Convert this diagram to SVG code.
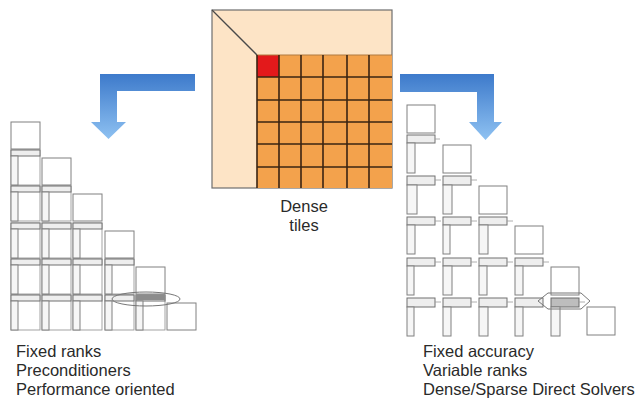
<svg xmlns="http://www.w3.org/2000/svg" xmlns:xlink="http://www.w3.org/1999/xlink" width="638" height="399" viewBox="0 0 638 399">
<style>
.diag{fill:#ffffff;stroke:#808080;stroke-width:1}
.blk{fill:none;stroke:#9a9a9a;stroke-width:0.9}
.hs{fill:#eeeeee;stroke:#707070;stroke-width:1}
.vs{fill:#f6f6f6;stroke:#808080;stroke-width:1}
.tab{fill:none;stroke:#999;stroke-width:0.8}
.ring{fill:none;stroke:#777;stroke-width:1}
.grid{stroke:#3a2412;stroke-width:1.6}
.lbl{font-family:"Liberation Sans",Arial,sans-serif;font-size:16.5px;fill:#2a2a2a}
.arrow{stroke:none}
</style>
<defs>
<linearGradient id="gl" x1="0" y1="74" x2="0" y2="140" gradientUnits="userSpaceOnUse">
<stop offset="0" stop-color="#3d7acb"/>
<stop offset="1" stop-color="#8fc2f2"/>
</linearGradient>
<g id="lb">
<rect class="blk" x="0" y="0" width="29" height="35"/>
<rect class="hs" x="0" y="0" width="29" height="6"/>
<rect class="vs" x="0" y="6" width="7" height="29"/>
</g>
</defs>
<rect width="638" height="399" fill="#ffffff"/>

<g id="dense-matrix">
<rect x="212" y="10" width="180" height="178" fill="#fde4c6" stroke="#6e6e6e" stroke-width="1.2"/>
<line x1="212" y1="10" x2="257" y2="55" stroke="#4a4a4a" stroke-width="1.3"/>
<rect x="257" y="55" width="135" height="133" fill="#f3a24c"/>
<rect x="257" y="55" width="22" height="22" fill="#e3191b"/>
<line x1="257" y1="55" x2="392" y2="55" stroke="#b07a40" stroke-width="1"/>
<g class="grid">
<line x1="257" y1="55" x2="257" y2="188"/>
<line x1="279" y1="55" x2="279" y2="188"/>
<line x1="301" y1="55" x2="301" y2="188"/>
<line x1="323" y1="55" x2="323" y2="188"/>
<line x1="347" y1="55" x2="347" y2="188"/>
<line x1="369" y1="55" x2="369" y2="188"/>
<line x1="257" y1="77" x2="392" y2="77"/>
<line x1="257" y1="100" x2="392" y2="100"/>
<line x1="257" y1="122" x2="392" y2="122"/>
<line x1="257" y1="144" x2="392" y2="144"/>
<line x1="257" y1="167" x2="392" y2="167"/>
</g>
</g>

<g id="label-dense">
<text class="lbl" x="304" y="212" text-anchor="middle">Dense</text>
<text class="lbl" x="304" y="231" text-anchor="middle">tiles</text>
</g>

<g id="connectors">
<path class="arrow" fill="url(#gl)" d="M195,74 L100,74 L100,122 L91,122 L108.5,139 L126,122 L117,122 L117,91 L195,91 Z"/>
<path class="arrow" fill="url(#gl)" d="M400,74 L494,74 L494,122 L502,122 L485.5,140 L469,122 L477,122 L477,92 L400,92 Z"/>
</g>

<g id="left-hmatrix">
<rect class="diag" x="11" y="122" width="29" height="27"/>
<rect class="diag" x="42" y="158" width="29" height="27"/>
<rect class="diag" x="73" y="194" width="29" height="27"/>
<rect class="diag" x="105" y="231" width="29" height="27"/>
<rect class="diag" x="136" y="267" width="29" height="27"/>
<rect class="diag" x="167" y="303" width="29" height="27"/>
<use xlink:href="#lb" x="11" y="150"/>
<use xlink:href="#lb" x="11" y="186"/>
<use xlink:href="#lb" x="42" y="186"/>
<use xlink:href="#lb" x="11" y="223"/>
<use xlink:href="#lb" x="42" y="223"/>
<use xlink:href="#lb" x="73" y="223"/>
<use xlink:href="#lb" x="11" y="259"/>
<use xlink:href="#lb" x="42" y="259"/>
<use xlink:href="#lb" x="73" y="259"/>
<use xlink:href="#lb" x="105" y="259"/>
<use xlink:href="#lb" x="11" y="295"/>
<use xlink:href="#lb" x="42" y="295"/>
<use xlink:href="#lb" x="73" y="295"/>
<use xlink:href="#lb" x="105" y="295"/>
<use xlink:href="#lb" x="136" y="295"/>
<rect x="136" y="295" width="29" height="5" fill="#8c8c8c"/>
<ellipse class="ring" cx="146" cy="299" rx="34" ry="7"/>
</g>

<g id="right-hmatrix">
<rect class="diag" x="407" y="105" width="28" height="28"/>
<rect class="diag" x="443" y="145" width="28" height="28"/>
<rect class="diag" x="479" y="186" width="28" height="28"/>
<rect class="diag" x="515" y="226" width="28" height="28"/>
<rect class="diag" x="551" y="267" width="28" height="28"/>
<rect class="diag" x="587" y="307" width="28" height="28"/>
<rect class="hs" x="407" y="135" width="28" height="8"/>
<rect class="vs" x="407" y="143" width="8" height="30"/>
<path class="tab" d="M435,139 h5"/>
<rect class="hs" x="407" y="176" width="28" height="9"/>
<rect class="hs" x="443" y="176" width="28" height="9"/>
<rect class="vs" x="407" y="185" width="10" height="29"/>
<rect class="vs" x="443" y="185" width="9" height="29"/>
<path class="tab" d="M435,180 h6 M471,180 h6"/>
<rect class="hs" x="407" y="217" width="28" height="8"/>
<rect class="hs" x="443" y="217" width="28" height="8"/>
<rect class="hs" x="479" y="217" width="28" height="8"/>
<rect class="vs" x="407" y="225" width="8" height="29"/>
<rect class="vs" x="443" y="225" width="7" height="29"/>
<rect class="vs" x="479" y="225" width="9" height="29"/>
<path class="tab" d="M435,221 h6 M471,221 h6 M507,221 h6"/>
<rect class="hs" x="407" y="258" width="28" height="8"/>
<rect class="hs" x="443" y="258" width="28" height="8"/>
<rect class="hs" x="479" y="258" width="28" height="8"/>
<rect class="hs" x="515" y="258" width="28" height="8"/>
<rect class="vs" x="407" y="266" width="7" height="29"/>
<rect class="vs" x="443" y="266" width="9" height="29"/>
<rect class="vs" x="479" y="266" width="8" height="29"/>
<rect class="vs" x="515" y="266" width="8" height="29"/>
<path class="tab" d="M435,262 h6 M471,262 h6 M507,262 h6 M543,262 h6"/>
<rect class="hs" x="407" y="298" width="28" height="9"/>
<rect class="hs" x="443" y="298" width="28" height="9"/>
<rect class="hs" x="479" y="298" width="28" height="9"/>
<rect class="hs" x="515" y="298" width="28" height="9"/>
<rect x="551" y="298" width="28" height="9" fill="#bdbdbd" stroke="#6a6a6a" stroke-width="1"/>
<rect class="vs" x="407" y="307" width="7" height="29"/>
<rect class="vs" x="443" y="307" width="8" height="29"/>
<rect class="vs" x="479" y="307" width="9" height="29"/>
<rect class="vs" x="515" y="307" width="8" height="29"/>
<rect class="vs" x="551" y="307" width="9" height="29"/>
<path class="tab" d="M435,302 h6 M471,302 h6 M507,302 h6 M579,302 h6"/>
<path class="ring" d="M538,301 L548,293 L581,293 L590,301 L581,309 L548,309 Z"/>
</g>

<g id="label-left">
<text class="lbl" x="16" y="357">Fixed ranks</text>
<text class="lbl" x="16" y="376">Preconditioners</text>
<text class="lbl" x="16" y="395">Performance oriented</text>
</g>

<g id="label-right">
<text class="lbl" x="423" y="357">Fixed accuracy</text>
<text class="lbl" x="423" y="376">Variable ranks</text>
<text class="lbl" x="423" y="395">Dense/Sparse Direct Solvers</text>
</g>
</svg>
